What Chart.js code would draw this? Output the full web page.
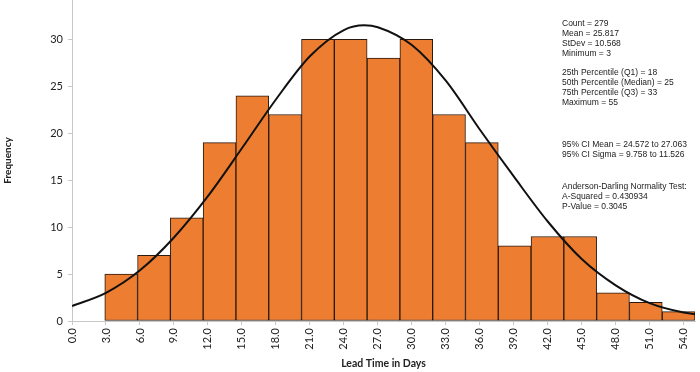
<!DOCTYPE html>
<html lang="en">
<head>
<meta charset="UTF-8">
<title>Lead Time Histogram</title>
<script src="https://cdn.jsdelivr.net/npm/chart.js"></script>
<style>
  html, body { margin: 0; padding: 0; background: #fff; }
</style>
</head>
<body>
<canvas id="histChart" width="700" height="372"></canvas>
<script>
// histogram bins (start of each 3-day bin) and counts
const binStarts = [3, 6, 9, 12, 15, 18, 21, 24, 27, 30, 33, 36, 39, 42, 45, 48, 51, 54];
const binCounts = [5, 7, 11, 19, 24, 22, 30, 30, 28, 30, 22, 19, 8, 9, 9, 3, 2, 1];
const binWidth = 3;

// fitted normal curve
const curveDays = [0, 3, 6, 9, 12, 15, 18, 21, 24, 25.8, 27, 30, 33, 36, 39, 42, 45, 48, 51, 54, 56];
const curveFreq = [1.6, 3.0, 5.4, 8.9, 13.3, 18.4, 23.6, 28.2, 31.0, 31.5, 31.3, 29.4, 25.6, 20.4, 15.4, 10.6, 6.6, 3.8, 1.9, 0.9, 0.6];

// axis ticks
const xTickValues = [0, 3, 6, 9, 12, 15, 18, 21, 24, 27, 30, 33, 36, 39, 42, 45, 48, 51, 54];
const yTickValues = [0, 5, 10, 15, 20, 25, 30];

// summary text on the right
const statsBlocks = [
  ['Count = 279', 'Mean = 25.817', 'StDev = 10.568', 'Minimum = 3'],
  ['25th Percentile (Q1) = 18', '50th Percentile (Median) = 25', '75th Percentile (Q3) = 33', 'Maximum = 55'],
  ['95% CI Mean = 24.572 to 27.063', '95% CI Sigma = 9.758 to 11.526'],
  ['Anderson-Darling Normality Test:', 'A-Squared = 0.430934', 'P-Value = 0.3045']
];

const statsText = {
  id: 'statsText',
  afterDraw(chart) {
    const ctx = chart.ctx;
    const blockTops = [24, 73, 145, 187];
    ctx.save();
    ctx.font = '8.5px "Liberation Sans", Arial, sans-serif';
    ctx.fillStyle = '#222';
    ctx.textBaseline = 'middle';
    statsBlocks.forEach((lines, b) => {
      lines.forEach((t, i) => ctx.fillText(t, 562, blockTops[b] + i * 10));
    });
    ctx.restore();
  }
};

const axisFont = { family: 'Lato, "Open Sans", sans-serif', size: 11 };
const axisGray = '#c8c8c8';

const ctx = document.getElementById('histChart').getContext('2d');
new Chart(ctx, {
  type: 'bar',
  data: {
    datasets: [
      {
        type: 'line',
        xAxisID: 'x',
        yAxisID: 'y',
        data: curveDays.map((d, i) => ({ x: d, y: curveFreq[i] })),
        borderColor: '#111',
        borderWidth: 2,
        pointRadius: 0,
        cubicInterpolationMode: 'monotone'
      },
      {
        type: 'bar',
        xAxisID: 'xb',
        yAxisID: 'y',
        data: binStarts.map((s, i) => ({ x: s + binWidth / 2, y: binCounts[i] })),
        backgroundColor: '#ED7D31',
        borderColor: '#2b1a0e',
        borderWidth: 1,
        borderSkipped: false,
        grouped: false,
        barPercentage: 1,
        categoryPercentage: 1
      }
    ]
  },
  options: {
    responsive: false,
    animation: false,
    layout: { padding: { left: 0, right: 5, top: 0, bottom: 0 } },
    plugins: {
      legend: { display: false },
      tooltip: { enabled: false }
    },
    scales: {
      x: {
        type: 'linear',
        position: 'bottom',
        offset: false,
        min: 0,
        max: 55,
        afterBuildTicks: s => { s.ticks = xTickValues.map(v => ({ value: v })); },
        afterFit: s => { s.height = 51; s.paddingLeft = 0; s.paddingRight = 0; },
        grid: { offset: false, drawOnChartArea: false, drawTicks: true, tickLength: 4, color: axisGray },
        border: { color: axisGray, width: 1 },
        ticks: {
          autoSkip: false,
          minRotation: 90,
          maxRotation: 90,
          padding: 3,
          color: '#222',
          font: axisFont,
          callback: v => Number(v).toFixed(1)
        },
        title: {
          display: true,
          text: 'Lead Time in Days',
          color: '#222',
          font: { family: 'Lato, "Open Sans", sans-serif', size: 10.5, weight: 'bold' },
          padding: { top: 0, bottom: 2 }
        }
      },
      xb: {
        type: 'linear',
        display: false,
        offset: false,
        grid: { offset: false },
        min: 0,
        max: 57,
        ticks: { stepSize: 3 }
      },
      y: {
        min: 0,
        max: 34.2,
        afterBuildTicks: s => { s.ticks = yTickValues.map(v => ({ value: v })); },
        afterFit: s => { s.width = 72; s.paddingTop = 0; s.paddingBottom = 0; },
        grid: { drawOnChartArea: false, drawTicks: true, tickLength: 4, color: axisGray },
        border: { color: axisGray, width: 1 },
        ticks: { padding: 5, color: '#222', font: axisFont },
        title: {
          display: true,
          text: 'Frequency',
          color: '#222',
          font: { family: 'Lato, "Open Sans", sans-serif', size: 10, weight: 'bold' },
          padding: { top: 2, bottom: 0 }
        }
      }
    }
  },
  plugins: [statsText]
});
</script>
</body>
</html>
